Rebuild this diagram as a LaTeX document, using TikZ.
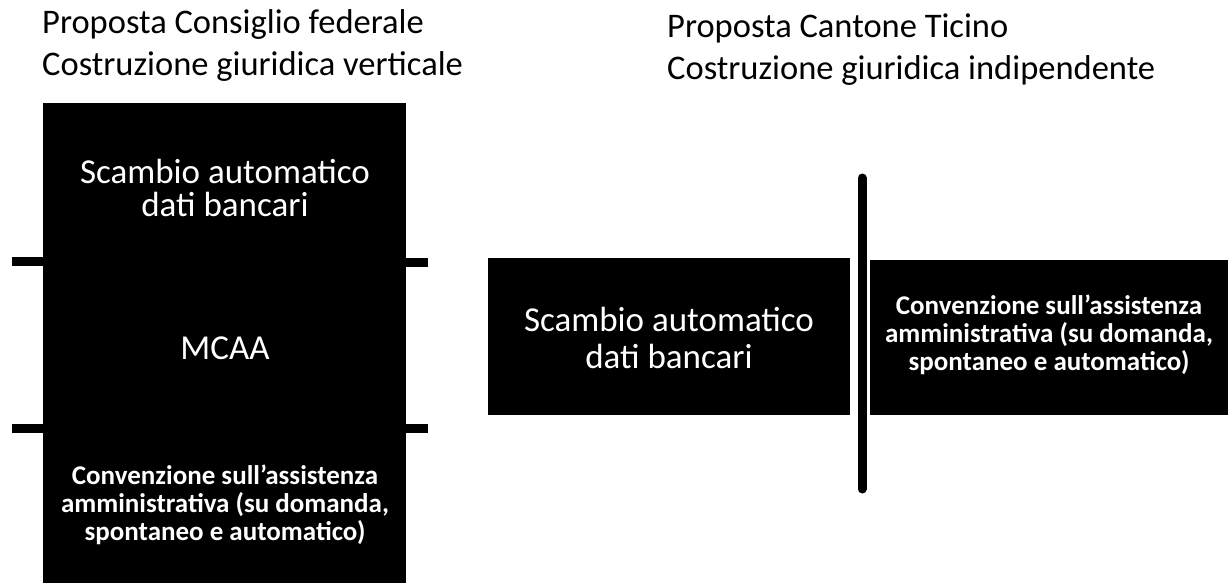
\documentclass[tikz,border=0pt]{standalone}
\usepackage{fontspec}
\setmainfont{Carlito}
\usetikzlibrary{calc}
\begin{document}
\begin{tikzpicture}[x=1pt,y=-1pt,
  blk/.style={fill=black,draw=none,inner sep=0pt,text=white,align=center},
  reg/.style={font=\fontsize{35}{37}\selectfont},
  regt/.style={font=\fontsize{35}{33}\selectfont},
  bld/.style={font=\fontsize{27}{28}\selectfont\bfseries},
  ttl/.style={font=\fontsize{34.5}{42}\selectfont,align=left,anchor=base west,inner sep=0pt},
  tick/.style={line width=9pt,draw=black},
  bar/.style={line width=9pt,draw=black,line cap=round}]
\useasboundingbox (0,0) rectangle (1230,583);
% titles (anchor = baseline of the last line)
\node[ttl] (t1) at (42,76) {Proposta Consiglio federale\\Costruzione giuridica verticale};
\node[ttl] (t2) at (667,80) {Proposta Cantone Ticino\\Costruzione giuridica indipendente};
% left column
\fill (43,103) rectangle (406,583);
\node[blk,regt] (s1) at (225,188) {Scambio automatico\\dati bancari};
\node[blk,reg] (m1) at (225,348) {MCAA};
\node[blk,bld] (c1) at (225,505) {Convenzione sull’assistenza\\amministrativa (su domanda,\\spontaneo e automatico)};
\coordinate (lt1) at (12,261);
\coordinate (lt1e) at (43,261);
\coordinate (rt1) at (406,262);
\coordinate (rt1e) at (428,262);
\coordinate (lt2) at (12,428);
\coordinate (lt2e) at (43,428);
\coordinate (rt2) at (406,428);
\coordinate (rt2e) at (428,428);
\draw[tick] (lt1) -- (lt1e);
\draw[tick] (rt1) -- (rt1e);
\draw[tick] (lt2) -- (lt2e);
\draw[tick] (rt2) -- (rt2e);
% right part
\fill (488,258) rectangle (850,415);
\fill (870,260) rectangle (1228,415);
\node[blk,reg] (s2) at (669,338) {Scambio automatico\\dati bancari};
\node[blk,bld] (c2) at (1049,335) {Convenzione sull’assistenza\\amministrativa (su domanda,\\spontaneo e automatico)};
\coordinate (bt) at (862,178);
\coordinate (bb) at (862,489);
\draw[bar] (bt) -- (bb);
\end{tikzpicture}
\end{document}
